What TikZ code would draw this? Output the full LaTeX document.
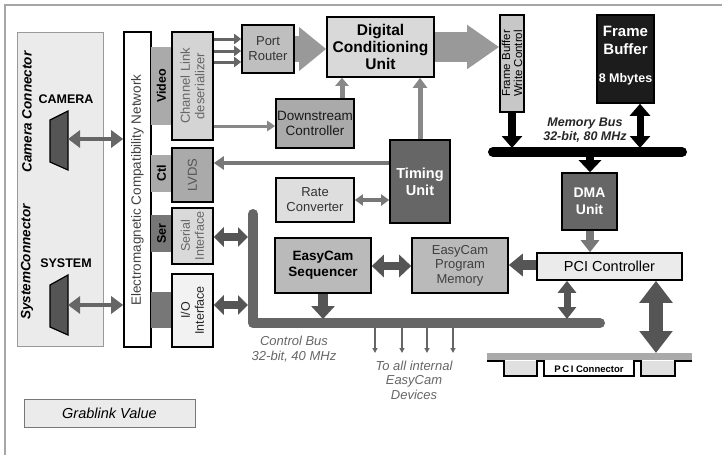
\documentclass[tikz,border=0pt]{standalone}
\usepackage{fontspec}
\setmainfont{Liberation Sans}
\usetikzlibrary{arrows.meta}
\newcommand\fz[2]{\fontsize{#1}{#2}\selectfont}
\definecolor{cbg}{HTML}{EBEBEB}
\definecolor{gA}{HTML}{AAAAAA}
\definecolor{gB}{HTML}{777777}
\definecolor{gC}{HTML}{555555}
\definecolor{gD}{HTML}{666666}
\definecolor{gE}{HTML}{999999}
\definecolor{gF}{HTML}{888888}
\tikzset{
  box/.style={draw=black, line width=1.6pt, inner sep=0pt, align=center, font=\fz{13}{15}},
  tab/.style={draw=none, inner sep=0pt, align=center},
  vtext/.style={rotate=90},
  lbl/.style={inner sep=0pt, align=center},
}
\begin{document}
\begin{tikzpicture}[x=1pt,y=-1pt]
\useasboundingbox (0,0) rectangle (722,455);
% frame
\draw[gray!70, line width=2pt] (5,455) -- (5,5) -- (722,5);
% connector background
\node[draw=gE, fill=cbg, line width=0.8pt, minimum width=86pt, minimum height=314pt, inner sep=0pt] (cc) at (60,189) {};
\node[lbl, vtext, font=\bfseries\itshape\fz{13.5}{15}] (camtitle) at (27,112) {Camera Connector};
\node[lbl, vtext, font=\bfseries\itshape\fz{13.5}{15}] (systitle) at (27,262) {SystemConnector};
\node[lbl, font=\bfseries\fz{12.5}{14}] (camlbl) at (66,99) {CAMERA};
\node[lbl, font=\bfseries\fz{12.5}{14}] (syslbl) at (66,263) {SYSTEM};
\draw[fill=gC, line width=1.2pt] (50,120) -- (68,111) -- (68,170) -- (50,162) -- cycle;
\draw[fill=gC, line width=1.2pt] (50,285) -- (68,275) -- (68,335) -- (50,327) -- cycle;
\coordinate (camport) at (68,139);
\coordinate (sysport) at (68,305);
% EMC
\node[box, fill=white, minimum width=27pt, minimum height=315pt] (emc) at (137.5,189.5) {};
\node[lbl, vtext, text=black!75, font=\fz{13.5}{15}] (emctext) at (137.5,190) {Electromagnetic Compatibility Network};
% tabs
\node[tab, fill=gA, minimum width=21pt, minimum height=78pt] (tvid) at (161.5,86) {};
\node[lbl, vtext, font=\bfseries\fz{12.5}{14}] at (tvid) {Video};
\node[tab, fill=gA, minimum width=21pt, minimum height=37pt] (tctl) at (161.5,173.5) {};
\node[lbl, vtext, font=\bfseries\fz{12.5}{14}] at (tctl) {Ctl};
\node[tab, fill=gB, minimum width=21pt, minimum height=37pt] (tser) at (161.5,233.5) {};
\node[lbl, vtext, font=\bfseries\fz{12.5}{14}] at (tser) {Ser};
\node[tab, fill=gB, minimum width=21pt, minimum height=36pt] (tio) at (161.5,310) {};
% interface boxes
\node[box, fill=black!17, minimum width=41pt, minimum height=108pt] (chl) at (192.5,86) {};
\node[lbl, vtext, text=gD, font=\fz{13}{14.5}] at (chl) {Channel Link\\deserializer};
\node[box, fill=gA, minimum width=41pt, minimum height=54pt] (lvds) at (192.5,175) {};
\node[lbl, vtext, text=gC, font=\fz{13}{15}] at (lvds) {LVDS};
\node[box, fill=black!15, minimum width=41pt, minimum height=56pt] (seri) at (192.5,236) {};
\node[lbl, vtext, text=gD, font=\fz{12.5}{14}] at (seri) {Serial\\Interface};
\node[box, fill=black!5, minimum width=41pt, minimum height=73pt] (ioi) at (192.5,310.5) {};
\node[lbl, vtext, text=black!85, font=\fz{12.5}{14}] at (ioi) {I/O\\Interface};
% main blocks
\node[box, fill=black!25, minimum width=52pt, minimum height=48pt, text=black!80] (pr) at (268,49) {Port\\Router};
\node[box, fill=black!15, minimum width=107pt, minimum height=60pt, font=\bfseries\fz{15.5}{17}] (dcu) at (380.5,47) {Digital\\Conditioning\\Unit};
\node[box, fill=black!22, minimum width=24pt, minimum height=97pt] (fbwc) at (512,63.5) {};
\node[lbl, vtext, font=\fz{11.5}{12}] at (fbwc) {Frame Buffer\\Write Control};
\node[box, fill=black!89, minimum width=57pt, minimum height=88pt] (fb) at (625.5,59) {};
\node[lbl, text=white, font=\bfseries\fz{15}{18}] at (625.5,40) {Frame\\Buffer};
\node[lbl, text=white, font=\bfseries\fz{12.5}{14}] at (625.5,79) {8 Mbytes};
\node[box, fill=gD, minimum width=55pt, minimum height=57pt, text=white, font=\bfseries\fz{14}{17}] (dma) at (589.5,201.5) {DMA\\Unit};
\node[box, fill=cbg, minimum width=145pt, minimum height=27pt, font=\fz{14.5}{16}] (pci) at (609.5,266.5) {PCI Controller};
\node[box, fill=gA, minimum width=78pt, minimum height=49pt, text=black!90, font=\fz{13.5}{15.5}] (ds) at (315,123.5) {Downstream\\Controller};
\node[box, fill=gD, minimum width=60pt, minimum height=83pt, text=white, font=\bfseries\fz{14.5}{17}] (tim) at (420,181.5) {Timing\\Unit};
\node[box, fill=black!13, minimum width=78pt, minimum height=44pt, text=black!80] (rate) at (315,200) {Rate\\Converter};
\node[box, fill=black!27, minimum width=96pt, minimum height=55pt, font=\bfseries\fz{13.5}{16}] (seq) at (323,265.5) {EasyCam\\Sequencer};
\node[box, fill=black!27, minimum width=96pt, minimum height=55pt, text=black!75, font=\fz{13}{14.5}] (pm) at (460,265.5) {EasyCam\\Program\\Memory};
\node[draw=gB, fill=cbg, line width=0.8pt, minimum width=171pt, minimum height=28pt, inner sep=0pt, font=\itshape\fz{14.5}{16}] (grab) at (109.5,413) {Grablink Value};
% memory bus
\coordinate (mbL) at (493,152);
\coordinate (mbR) at (682,152);
\draw[black, line width=10pt, line cap=round] (mbL) -- (mbR);
\node[lbl, text=black!85, font=\bfseries\itshape\fz{12.5}{14}] (mblbl) at (585,130.5) {Memory Bus\\32-bit, 80 MHz};
% control bus
\coordinate (cbTop) at (253,214);
\coordinate (cbCorner) at (253,323);
\coordinate (cbR) at (600,323);
\draw[gD, line width=10pt, line cap=round, line join=round] (cbTop) -- (cbCorner) -- (cbR);
\node[lbl, text=gD, font=\itshape\fz{13}{15}] (cblbl) at (294,349.5) {Control Bus\\32-bit, 40 MHz};
\node[lbl, text=gD, font=\itshape\fz{13}{14.5}] (tolbl) at (414,380) {To all internal\\EasyCam\\Devices};
% PCI connector
\coordinate (pcicL) at (487,356.5);
\coordinate (pcicR) at (692,356.5);
\fill[black!12] (504,361) rectangle (537,376);
\fill[black!12] (641,361) rectangle (675,376);
\draw[gA, line width=7pt] (pcicL) -- (pcicR);
\draw[black, line width=1.4pt] (487,361) -- (504,361) -- (504,376) -- (537,376) -- (537,361) -- (544,361) -- (544,376) -- (634,376) -- (634,361) -- (641,361) -- (641,376) -- (675,376) -- (675,361) -- (692,361);
\node[lbl, font=\bfseries\fz{9.5}{11}] (pcic) at (589,369) {P\,C\,I Connector};
% ---- connectors ----
\draw[gD, line width=4pt, {Triangle[length=12pt,width=17pt]}-{Triangle[length=12pt,width=17pt]}] (camport) -- (emc.west |- camport);
\draw[gD, line width=4pt, {Triangle[length=12pt,width=17pt]}-{Triangle[length=12pt,width=17pt]}] (sysport) -- (emc.west |- sysport);
\foreach \yy in {39,51,62}
  \draw[gD, line width=3pt, -{Triangle[length=7pt,width=10pt]}] (chl.east |- 0,\yy) -- (pr.west |- 0,\yy);
\draw[gE, line width=26pt, -{Triangle[length=27pt,width=42pt]}] (pr.east) -- (dcu.west |- pr.east);
\draw[gE, line width=30pt, -{Triangle[length=32pt,width=42pt]}] (dcu.east |- 0,47) -- (fbwc.west |- 0,47);
\draw[black, line width=8pt, -{Triangle[length=12pt,width=20pt]}] (fbwc.south) -- (fbwc.south |- 0,148);
\draw[black, line width=7pt, {Triangle[length=12pt,width=20pt]}-{Triangle[length=12pt,width=20pt]}] (fb.south -| 640,0) -- (640,148);
\draw[black, line width=8pt, -{Triangle[length=12pt,width=22pt]}] (590,156) -- (dma.north -| 590,0);
\draw[gB, line width=8pt, -{Triangle[length=12pt,width=18pt]}] (dma.south -| 590,0) -- (pci.north -| 590,0);
\draw[gC, line width=10pt, -{Triangle[length=14pt,width=22pt]}] (pci.west |- 0,265) -- (pm.east |- 0,265);
\draw[gC, line width=7pt, {Triangle[length=12pt,width=18pt]}-{Triangle[length=12pt,width=18pt]}] (pci.south -| 567,0) -- (567,319);
\draw[gC, line width=14pt, {Triangle[length=22pt,width=32pt]}-{Triangle[length=22pt,width=32pt]}] (pci.south -| 656,0) -- (656,353);
\draw[gB, line width=4pt, -{Triangle[length=10pt,width=13pt]}] (tim.west |- 0,163) -- (lvds.east |- 0,163);
\draw[gF, line width=5pt, -{Triangle[length=10pt,width=14pt]}] (tim.north) -- (dcu.south -| tim.north);
\draw[gF, line width=5pt, -{Triangle[length=8pt,width=13pt]}] (ds.north -| 342,0) -- (dcu.south -| 342,0);
\draw[gF, line width=3pt, -{Triangle[length=8pt,width=10pt]}] (chl.east |- 0,126) -- (ds.west |- 0,126);
\draw[gB, line width=4pt, {Triangle[length=8pt,width=11pt]}-{Triangle[length=8pt,width=11pt]}] (rate.east) -- (tim.west |- rate.east);
\draw[gC, line width=8pt, {Triangle[length=10pt,width=19pt]}-{Triangle[length=10pt,width=19pt]}] (seri.east |- 0,237) -- (248,237);
\draw[gC, line width=8pt, {Triangle[length=10pt,width=19pt]}-{Triangle[length=10pt,width=19pt]}] (ioi.east |- 0,305) -- (248,305);
\draw[gC, line width=10pt, -{Triangle[length=13pt,width=23pt]}] (seq.south -| 323,0) -- (323,319);
\draw[gC, line width=8pt, {Triangle[length=12pt,width=22pt]}-{Triangle[length=12pt,width=22pt]}] (seq.east |- 0,266) -- (pm.west |- 0,266);
\foreach \xx in {375,402,427,453}
  \draw[gD, line width=1.5pt, -{Triangle[length=5pt,width=5pt]}] (\xx,327) -- (\xx,353);
\end{tikzpicture}
\end{document}
